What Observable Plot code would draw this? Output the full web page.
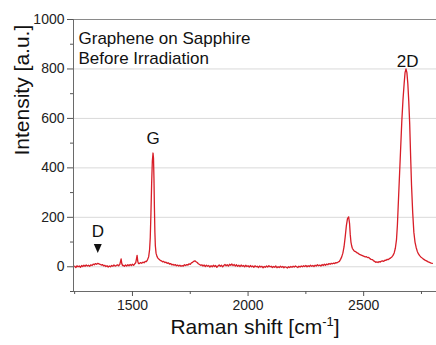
<!DOCTYPE html>
<html><head><meta charset="utf-8">
<script src="https://cdn.jsdelivr.net/npm/d3@7"></script>
<script src="https://cdn.jsdelivr.net/npm/@observablehq/plot@0.6"></script>
<style>body{margin:0;background:#fff;} #chart{width:436px;height:345px;overflow:hidden;}</style>
</head><body><div id="chart"></div>
<script>
const ramanShift = [1250,1255,1260,1265,1270,1275,1280,1285,1290,1295,1300,1305,1310,1315,1320,1325,1330,1335,1340,1345,1350,1355,1360,1365,1370,1375,1380,1385,1390,1395,1400,1405,1410,1415,1420,1425,1430,1435,1440,1445,1448,1451,1454,1457,1460,1465,1470,1475,1480,1485,1490,1495,1500,1505,1510,1514,1517,1520,1523,1526,1530,1535,1540,1545,1550,1555,1560,1565,1570,1574,1577,1580,1583,1586,1589,1591,1593,1595,1597,1599,1602,1606,1610,1615,1620,1625,1630,1635,1640,1645,1650,1655,1660,1665,1670,1675,1680,1685,1690,1695,1700,1705,1710,1715,1720,1725,1730,1735,1740,1745,1750,1755,1760,1765,1770,1775,1780,1785,1790,1795,
1800,1805,1810,1815,1820,1825,1830,1835,1840,1845,1850,1855,1860,1865,1870,1875,1880,1885,1890,1895,1900,1905,1910,1915,1920,1925,1930,1935,1940,1945,1950,1955,1960,1965,1970,1975,1980,1985,1990,1995,2000,2005,2010,2015,2020,2025,2030,2035,2040,2045,2050,2055,2060,2065,2070,2075,2080,2085,2090,2095,2100,2105,2110,2115,2120,2125,2130,2135,2140,2145,2150,2155,2160,2165,2170,2175,2180,2185,2190,2195,2200,2205,2210,2215,2220,2225,2230,2235,2240,2245,2250,2255,2260,2265,2270,2275,2280,2285,2290,2295,2300,2305,2310,2315,2320,2325,2330,2335,2340,2345,2350,2355,2360,2365,2370,2375,2380,2385,2390,2395,
2400,2405,2410,2415,2420,2425,2430,2435,2439,2442,2445,2448,2451,2454,2457,2462,2467,2472,2477,2482,2487,2492,2497,2502,2507,2512,2517,2522,2527,2532,2537,2542,2547,2552,2557,2562,2567,2572,2577,2582,2587,2592,2597,2602,2607,2612,2617,2622,2627,2632,2637,2642,2646,2650,2655,2660,2665,2670,2675,2679,2683,2687,2691,2695,2699,2703,2707,2712,2717,2722,2727,2732,2737,2742,2747,2752,2757,2762,2767,2772,2777,2782,2787,2792,2797,2802,2807,2812,2815];
const intensity = [2,-3,4,0,3,-2,5,1,6,2,7,3,6,2,8,5,11,8,13,10,14,12,10,7,9,4,6,1,4,-1,3,0,5,2,7,3,5,8,4,9,20,32,12,5,6,2,7,3,8,4,9,5,10,6,12,16,30,46,22,13,13,17,14,19,16,22,21,28,40,68,118,218,338,428,460,440,358,238,140,85,55,42,35,30,26,24,20,22,17,19,14,16,11,13,8,10,6,9,4,7,3,6,2,5,3,8,5,9,7,12,10,16,18,22,24,20,17,12,9,6,
8,3,7,1,6,2,5,-1,4,0,6,1,5,-2,3,7,2,6,0,5,9,4,8,3,10,6,11,5,9,3,8,2,6,1,7,2,5,0,6,1,4,-1,5,0,3,-2,4,0,2,-3,3,-1,2,-4,1,-2,3,-1,4,0,2,-3,1,-2,3,-4,0,-3,2,-2,1,-4,0,-2,-5,0,-3,1,-2,2,-1,3,0,-3,2,-1,3,0,4,1,5,0,4,1,6,2,5,1,6,3,8,4,7,3,9,5,10,6,11,8,13,10,14,12,15,13,17,16,
19,22,30,40,55,80,120,165,195,202,175,130,100,85,75,70,66,62,60,56,54,50,48,46,44,42,40,41,37,38,33,30,29,25,22,18,20,17,21,19,23,24,22,27,26,30,29,33,36,40,46,56,75,110,170,260,370,480,590,675,740,785,800,785,740,670,580,450,330,220,140,100,78,62,52,45,40,36,32,29,26,24,21,19,17,15,14];
const yTicks = [0,200,400,600,800,1000];
const yMinor = [-100,100,300,500,700,900];
const yGrid = [0,200,400,600,800];
const xTicks = [1500,2000,2500];
const xMinor = [1250,1750,2250,2750];
const xDomain = [1245,2815];
const yDomain = [-100,1000];
const titleLines = ["Graphene on Sapphire","Before Irradiation"];
const peakNames = ["D","G","2D"];
const peakX = [1350,1589,2690];
const peakLabelY = [141,520,830];
const markerX = [1350];
const markerY = [74];
const yLabel = "Intensity [a.u.]";
const xLabelMain = "Raman shift [cm";
const xLabelSup = "-1";
const xLabelEnd = "]";

const data = ramanShift.map((x,i)=>({x, y:intensity[i]}));
const markers = markerX.map((x,i)=>({x, y:markerY[i]}));
const downTriangle = {draw(ctx, size){const s=Math.sqrt(size); const w=s*0.5, h=s*0.56; ctx.moveTo(-w,-h); ctx.lineTo(w,-h); ctx.lineTo(0,h); ctx.closePath();}};
const fmt = d3.format("d");

const chart = Plot.plot({
  width:436, height:345, marginLeft:73, marginRight:0, marginTop:19, marginBottom:54,
  style:{fontFamily:"'Liberation Sans', Arial, sans-serif", fontSize:"14px", color:"#222", background:"#fff"},
  x:{domain:xDomain}, y:{domain:yDomain},
  marks:[
    Plot.gridY(yGrid, {stroke:"#d9d9d9", strokeOpacity:1}),
    Plot.ruleY([yDomain[1]], {stroke:"#8a8a8a"}),
    Plot.ruleY([yDomain[0]], {stroke:"#6a6a6a"}),
    Plot.ruleX([xDomain[0]], {stroke:"#6a6a6a"}),
    Plot.axisX(xTicks, {tickSize:5, tickPadding:4, stroke:"#555", fill:"#222", fontSize:14, tickFormat:fmt, label:null}),
    Plot.axisX(xMinor, {tickSize:3, text:null, stroke:"#555", label:null}),
    Plot.axisY(yTicks, {tickSize:6, tickPadding:3, stroke:"#555", fill:"#222", fontSize:14, tickFormat:fmt, label:null}),
    Plot.axisY(yMinor, {tickSize:3, text:null, stroke:"#555", label:null}),
    Plot.line(data, {x:"x", y:"y", stroke:"#d81e28", strokeWidth:1.3}),
    Plot.text([titleLines.join("\n")], {frameAnchor:"top-left", dx:5, dy:10, lineAnchor:"top", textAnchor:"start", fontSize:17, lineHeight:1.2, fill:"#111", text:d=>d}),
    Plot.text(peakNames, {x:peakX, y:peakLabelY, text:d=>d, fontSize:17, fill:"#111"}),
    Plot.dot(markers, {x:"x", y:"y", symbol:downTriangle, r:4.5, fill:"#111", stroke:null}),
    Plot.text([yLabel], {frameAnchor:"left", rotate:-90, dx:-51, fontSize:21, fill:"#111", text:d=>d}),
    Plot.text([xLabelMain + xLabelSup + xLabelEnd], {frameAnchor:"bottom", dy:42, fontSize:21, fill:"#111", text:d=>d})
  ]
});
document.getElementById("chart").appendChild(chart);
d3.select(chart).selectAll("text").each(function(){
  if (this.textContent === xLabelMain + xLabelSup + xLabelEnd) {
    const t = d3.select(this);
    t.text(null);
    t.append("tspan").text(xLabelMain);
    t.append("tspan").attr("dy","-8").attr("font-size","13").text(xLabelSup);
    t.append("tspan").attr("dy","8").text(xLabelEnd);
  }
});
</script>
</body></html>
